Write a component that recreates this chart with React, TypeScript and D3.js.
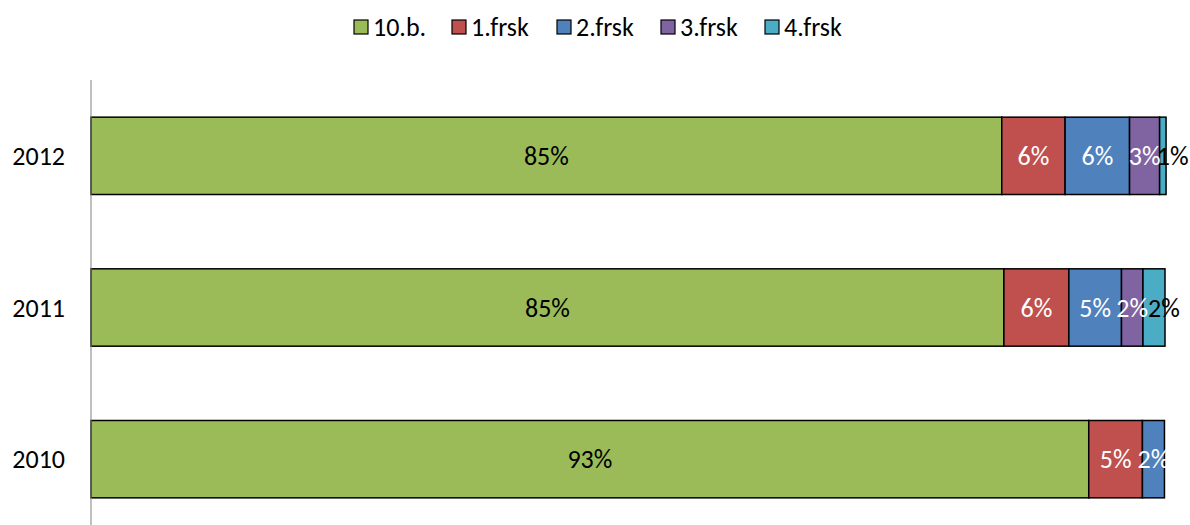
import { useRef, useEffect } from 'react';
import * as d3 from 'd3';

const years = ['2012', '2011', '2010'];
const seriesNames = ['10.b.', '1.frsk', '2.frsk', '3.frsk', '4.frsk'];
const seriesColors = ['#9BBB59', '#C0504D', '#4F81BD', '#8064A2', '#4BACC6'];
// values per series, in the order of years
const grade10 = [84.8, 85.0, 92.9];
const frsk1 = [5.9, 6.05, 5.0];
const frsk2 = [6.0, 4.9, 2.05];
const frsk3 = [2.8, 2.0, 0];
const frsk4 = [0.6, 2.05, 0];
const labels10 = ['85%', '85%', '93%'];
const labels1 = ['6%', '6%', '5%'];
const labels2 = ['6%', '5%', '2%'];
const labels3 = ['3%', '2%', ''];
const labels4 = ['1%', '2%', ''];

const width = 1190;
const height = 525;
const margin = { top: 80, right: 25, bottom: -10, left: 91 };
const font = 'Carlito, "Liberation Sans", Arial, sans-serif';
const fontSize = 26;

const App = () => {
  const svgRef = useRef(null);

  useEffect(() => {
    const svg = d3.select(svgRef.current);
    svg.selectAll('*').remove();

    const innerWidth = width - margin.left - margin.right;
    const innerHeight = height - margin.top - margin.bottom;

    const values = [grade10, frsk1, frsk2, frsk3, frsk4];
    const labels = [labels10, labels1, labels2, labels3, labels4];

    const rows = years.map((year, i) => {
      const row: Record<string, number | string> = { year };
      seriesNames.forEach((s, j) => (row[s] = values[j][i]));
      return row;
    });

    const stack = d3.stack<Record<string, number | string>>().keys(seriesNames);
    const stacked = stack(rows as any);

    const x = d3.scaleLinear().domain([0, 100]).range([0, innerWidth]);
    const y = d3
      .scaleBand()
      .domain(years)
      .range([0, innerHeight])
      .paddingInner(0.49)
      .paddingOuter(0.245);

    const g = svg
      .append('g')
      .attr('transform', `translate(${margin.left}, ${margin.top})`);

    stacked.forEach((layer, j) => {
      layer.forEach((d, i) => {
        if (d[1] - d[0] <= 0) return;
        g.append('rect')
          .attr('x', x(d[0]))
          .attr('y', y(years[i]) as number)
          .attr('width', x(d[1]) - x(d[0]))
          .attr('height', y.bandwidth())
          .attr('fill', seriesColors[j])
          .attr('stroke', '#000')
          .attr('stroke-width', 1.5);
      });
    });

    stacked.forEach((layer, j) => {
      layer.forEach((d, i) => {
        const text = labels[j][i];
        if (!text) return;
        const dark = j === 0 || j === 4;
        const mid = (x(d[0]) + x(d[1])) / 2;
        // the thin last segment gets its label pushed off to the right, as in the original
        const last = j === 4;
        g.append('text')
          .attr('x', last ? mid - 6 : mid)
          .attr('y', (y(years[i]) as number) + y.bandwidth() / 2)
          .attr('dy', '0.35em')
          .attr('text-anchor', last ? 'start' : 'middle')
          .attr('font-family', font)
          .attr('font-size', fontSize)
          .attr('fill', dark ? '#000' : '#fff')
          .text(text);
      });
    });

    // category axis
    g.append('line')
      .attr('x1', 0)
      .attr('x2', 0)
      .attr('y1', 0)
      .attr('y2', height - margin.top)
      .attr('stroke', '#808080')
      .attr('stroke-width', 1);

    years.forEach((year) => {
      g.append('text')
        .attr('x', -26)
        .attr('y', (y(year) as number) + y.bandwidth() / 2)
        .attr('dy', '0.35em')
        .attr('text-anchor', 'end')
        .attr('font-family', font)
        .attr('font-size', fontSize)
        .attr('fill', '#000')
        .text(year);
    });

    // legend
    const legendX = [354, 452, 557, 661, 765];
    const legend = svg.append('g');
    seriesNames.forEach((s, j) => {
      legend
        .append('rect')
        .attr('x', legendX[j])
        .attr('y', 20)
        .attr('width', 14)
        .attr('height', 14)
        .attr('fill', seriesColors[j])
        .attr('stroke', '#000')
        .attr('stroke-width', 1.2);
      legend
        .append('text')
        .attr('x', legendX[j] + 19)
        .attr('y', 27)
        .attr('dy', '0.35em')
        .attr('font-family', font)
        .attr('font-size', fontSize)
        .attr('fill', '#000')
        .text(s);
    });
  }, []);

  return (
    <svg
      ref={svgRef}
      width={width}
      height={height}
      style={{ position: 'absolute', left: 0, top: 0, background: '#fff' }}
    />
  );
};

export default App;
